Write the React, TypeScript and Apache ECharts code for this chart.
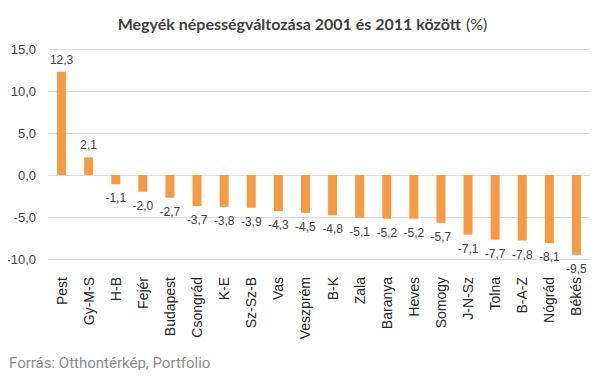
import React, { useEffect, useRef } from "react";
import * as echarts from "echarts";

const categories = ["Pest", "Gy-M-S", "H-B", "Fejér", "Budapest", "Csongrád", "K-E", "Sz-Sz-B", "Vas", "Veszprém", "B-K", "Zala", "Baranya", "Heves", "Somogy", "J-N-Sz", "Tolna", "B-A-Z", "Nógrád", "Békés"];
const values = [12.3, 2.1, -1.1, -2.0, -2.7, -3.7, -3.8, -3.9, -4.3, -4.5, -4.8, -5.1, -5.2, -5.2, -5.7, -7.1, -7.7, -7.8, -8.1, -9.5];
const titleBold = "Megyék népességváltozása 2001 és 2011 között";
const titleUnit = "(%)";
const sourceText = "Forrás: Otthontérkép, Portfolio";

const fmt = (v: number) => v.toFixed(1).replace(".", ",");

export default function App() {
  const ref = useRef<HTMLDivElement>(null);
  useEffect(() => {
    if (!ref.current) return;
    const chart = echarts.init(ref.current, null, { renderer: "svg" });
    chart.setOption({
      animation: false,
      backgroundColor: "#ffffff",
      title: {
        text: "{b|" + titleBold + "} {n|" + titleUnit + "}",
        left: "center",
        top: 9,
        textStyle: {
          rich: {
            b: { fontFamily: "Lato", fontWeight: "bold", fontSize: 16, color: "#404040" },
            n: { fontFamily: "Lato", fontWeight: "normal", fontSize: 16, color: "#404040" },
          },
        },
      },
      graphic: [
        {
          type: "text",
          left: 9,
          top: 355,
          style: { text: sourceText, fontFamily: "Roboto", fontSize: 15, fill: "#8c8c8c" },
        },
      ],
      grid: { left: 48, right: 15, top: 49, bottom: 119, containLabel: false },
      xAxis: {
        type: "category",
        data: categories,
        axisLine: { show: false, onZero: false },
        axisTick: { show: false },
        axisLabel: {
          rotate: 90,
          interval: 0,
          margin: 18,
          fontFamily: "Liberation Sans",
          fontSize: 14,
          color: "#262626",
        },
      },
      yAxis: {
        type: "value",
        min: -10,
        max: 15,
        interval: 5,
        axisLine: { show: false },
        axisTick: { show: false },
        splitLine: { lineStyle: { color: "#d9d9d9", width: 1 } },
        axisLabel: {
          formatter: (v: number) => fmt(v),
          fontFamily: "Liberation Sans",
          fontSize: 13,
          color: "#404040",
          margin: 12,
        },
      },
      series: [
        {
          type: "bar",
          barWidth: 9,
          itemStyle: { color: "#F79A45" },
          data: values.map((v) => ({
            value: v,
            label: { position: v >= 0 ? "top" : "bottom", distance: v >= 0 ? 6 : 8 },
          })),
          label: {
            show: true,
            formatter: (p: any) => fmt(p.value),
            fontFamily: "Liberation Sans",
            fontSize: 12,
            color: "#404040",
          },
        },
      ],
    });
    return () => chart.dispose();
  }, []);
  return <div ref={ref} style={{ width: 605, height: 378, margin: -8 }} />;
}
